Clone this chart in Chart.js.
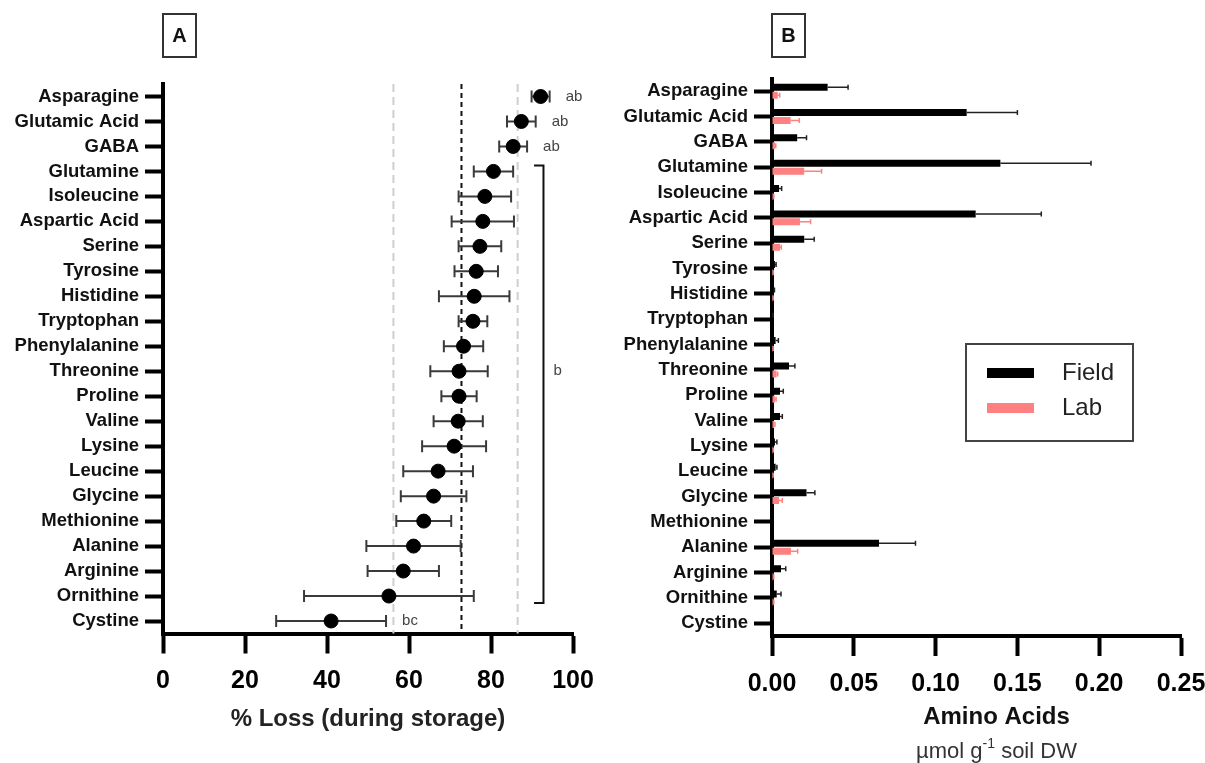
<!DOCTYPE html>
<html>
<head>
<meta charset="utf-8">
<script src="https://cdn.jsdelivr.net/npm/chart.js@4.4.0/dist/chart.umd.min.js"></script>
<style>
body { margin: 0; background: #fff; }
#wrap { position: relative; width: 1205px; height: 763px; }
canvas { position: absolute; top: 0; }
.tag { position: absolute; top: 13px; width: 31px; height: 41px; border: 2px solid #333;
       font: bold 20px 'Liberation Sans', Arial, sans-serif; text-align: center; line-height: 41px; color: #111; }
</style>
</head>
<body>
<div id="wrap">
  <canvas id="chartA" width="600" height="763" style="left:0"></canvas>
  <canvas id="chartB" width="605" height="763" style="left:600px"></canvas>
  <div class="tag" style="left:162px">A</div>
  <div class="tag" style="left:771px">B</div>
</div>
<script>
const aminoAcids = ['Asparagine', 'Glutamic Acid', 'GABA', 'Glutamine', 'Isoleucine', 'Aspartic Acid',
  'Serine', 'Tyrosine', 'Histidine', 'Tryptophan', 'Phenylalanine', 'Threonine', 'Proline', 'Valine',
  'Lysine', 'Leucine', 'Glycine', 'Methionine', 'Alanine', 'Arginine', 'Ornithine', 'Cystine']

// panel A: % loss during storage (mean, sd)
const lossMean = [92.1, 87.4, 85.4, 80.6, 78.5, 78.0, 77.3, 76.4, 75.9, 75.6, 73.3, 72.2, 72.2, 72.0,
  71.0, 67.1, 66.0, 63.6, 61.1, 58.6, 55.1, 41.0]
const lossSD = [2.2, 3.5, 3.4, 4.8, 6.4, 7.6, 5.2, 5.3, 8.6, 3.5, 4.8, 7.0, 4.3, 6.0,
  7.8, 8.5, 8.0, 6.7, 11.5, 8.7, 20.7, 13.4]
const lossRefs = [56.2, 72.8, 86.5]   // lower limit, mean, upper limit
const lossTicks = [0, 20, 40, 60, 80, 100]
const letterRows = [0, 1, 2, 21]
const letterText = ['ab', 'ab', 'ab', 'bc']
const bracketRows = [3, 20]
const bracketText = 'b'

// panel B: umol g-1 soil DW
const fieldMean = [0.034, 0.119, 0.0154, 0.1396, 0.0043, 0.1245, 0.0197, 0.0018, 0.0008, 0.0003, 0.0022,
  0.0104, 0.0049, 0.0049, 0.0018, 0.0022, 0.0211, 0, 0.0654, 0.0055, 0.0029, 0]
const fieldErr = [0.0125, 0.031, 0.0057, 0.0554, 0.0016, 0.0401, 0.0061, 0.0007, 0.0007, 0.0003, 0.0017,
  0.0036, 0.002, 0.0014, 0.0012, 0.0008, 0.0051, 0, 0.0223, 0.0029, 0.0026, 0]
const labMean = [0.0035, 0.0114, 0.0018, 0.0197, 0.0008, 0.0171, 0.0049, 0.0005, 0.0005, 0, 0.0005,
  0.0028, 0.0018, 0.0014, 0.0006, 0.0005, 0.0043, 0, 0.0116, 0.0008, 0.0008, 0]
const labErr = [0.0012, 0.0053, 0.0005, 0.0106, 0.0003, 0.0065, 0.0008, 0.0002, 0.0002, 0, 0.0002,
  0.0007, 0.0007, 0.0004, 0.0002, 0.0002, 0.002, 0, 0.0041, 0.0003, 0.0003, 0]
const concTicks = [0, 0.05, 0.10, 0.15, 0.20, 0.25]
const seriesNames = ['Field', 'Lab']
const seriesColors = ['#000000', '#ff8080']

const FONT = "'Liberation Sans', Arial, sans-serif"
Chart.defaults.font.family = FONT

const catAxis = width => ({
  type: 'category',
  offset: true,
  afterFit: s => { s.width = width; s.paddingTop = 0; s.paddingBottom = 0 },
  grid: { drawOnChartArea: false, drawTicks: true, tickLength: 18, tickWidth: 4, tickColor: '#000', offset: false },
  border: { width: 4, color: '#000' },
  ticks: { font: { size: 18.5, weight: 'bold' }, color: '#111', padding: 6, autoSkip: false }
})

// fixed height, and no extra room asked for the end labels
const valAxis = (ticksArr, height, fmt) => ({
  type: 'linear',
  min: ticksArr[0],
  max: ticksArr[ticksArr.length - 1],
  afterBuildTicks: s => { s.ticks = ticksArr.map(v => ({ value: v })) },
  afterFit: s => { s.height = height; s.paddingLeft = 0; s.paddingRight = 0 },
  grid: { drawOnChartArea: false, drawTicks: true, tickLength: 20, tickWidth: 4, tickColor: '#000' },
  border: { width: 4, color: '#000' },
  ticks: { font: { size: 25, weight: 'bold' }, color: '#000', padding: 13, maxRotation: 0, callback: fmt }
})

//--- panel A
const panelA = {
  id: 'panelA',
  beforeDatasetsDraw(chart) {
    const { ctx, chartArea: a, scales: { x, y } } = chart
    ctx.save()
    lossRefs.forEach((v, k) => {
      const px = x.getPixelForValue(v)
      ctx.beginPath()
      ctx.setLineDash(k === 1 ? [5, 4] : [8, 5])
      ctx.strokeStyle = k === 1 ? '#111' : '#cfcfcf'
      ctx.lineWidth = 2
      ctx.moveTo(px, a.top)
      ctx.lineTo(px, a.bottom)
      ctx.stroke()
    })
    ctx.setLineDash([])
    ctx.strokeStyle = '#3a3a3a'
    ctx.lineWidth = 2
    lossMean.forEach((m, i) => {
      const py = y.getPixelForValue(i)
      const x1 = x.getPixelForValue(m - lossSD[i])
      const x2 = x.getPixelForValue(m + lossSD[i])
      ctx.beginPath()
      ctx.moveTo(x1, py); ctx.lineTo(x2, py)
      ctx.moveTo(x1, py - 6); ctx.lineTo(x1, py + 6)
      ctx.moveTo(x2, py - 6); ctx.lineTo(x2, py + 6)
      ctx.stroke()
    })
    ctx.restore()
  },
  afterDatasetsDraw(chart) {
    const { ctx, scales: { x, y } } = chart
    ctx.save()
    ctx.font = '15px ' + FONT
    ctx.fillStyle = '#444'
    ctx.textBaseline = 'middle'
    letterRows.forEach((r, k) => {
      const px = x.getPixelForValue(lossMean[r] + lossSD[r]) + 16
      ctx.fillText(letterText[k], px, y.getPixelForValue(r))
    })
    // bracket for group b
    const bx = x.getPixelForValue(92.8)
    const tick = x.getPixelForValue(90.5)
    const top = y.getPixelForValue(bracketRows[0]) - 6
    const bottom = y.getPixelForValue(bracketRows[1]) + 7
    ctx.strokeStyle = '#111'
    ctx.lineWidth = 2
    ctx.beginPath()
    ctx.moveTo(tick, top); ctx.lineTo(bx, top); ctx.lineTo(bx, bottom); ctx.lineTo(tick, bottom)
    ctx.stroke()
    ctx.fillText(bracketText, bx + 10, y.getPixelForValue(11))
    ctx.restore()
  }
}

new Chart(document.getElementById('chartA'), {
  type: 'line',
  data: {
    labels: aminoAcids,
    datasets: [{
      data: lossMean,
      showLine: false,
      pointRadius: 7,
      pointHoverRadius: 7,
      pointBackgroundColor: '#000',
      pointBorderColor: '#000',
      borderColor: '#000'
    }]
  },
  options: {
    indexAxis: 'y',
    responsive: false,
    animation: false,
    devicePixelRatio: 1,
    layout: { padding: { top: 84, right: 27, left: 0, bottom: 0 } },
    plugins: { legend: { display: false }, tooltip: { enabled: false } },
    scales: {
      y: catAxis(163),
      x: Object.assign(valAxis(lossTicks, 129.5, v => v), {
        title: { display: true, text: '% Loss (during storage)', color: '#222',
          font: { size: 24, weight: 'bold' }, padding: { top: 0, bottom: 29 } }
      })
    }
  },
  plugins: [panelA]
})

//--- panel B
const panelB = {
  id: 'panelB',
  afterDatasetsDraw(chart) {
    const { ctx, chartArea: a, scales: { x } } = chart
    const errs = [fieldErr, labErr]
    const cols = ['#222', '#ff8080']
    ctx.save()
    chart.data.datasets.forEach((ds, d) => {
      const meta = chart.getDatasetMeta(d)
      ctx.strokeStyle = cols[d]
      ctx.lineWidth = 1.5
      ds.data.forEach((v, i) => {
        if (!errs[d][i]) return
        const py = meta.data[i].y
        const x1 = x.getPixelForValue(v)
        const x2 = x.getPixelForValue(v + errs[d][i])
        ctx.beginPath()
        ctx.moveTo(x1, py); ctx.lineTo(x2, py)
        ctx.moveTo(x2, py - 2.5); ctx.lineTo(x2, py + 2.5)
        ctx.stroke()
      })
    })

    // legend
    ctx.strokeStyle = '#444'
    ctx.lineWidth = 2
    ctx.strokeRect(366, 344, 167, 97)
    ctx.font = '24px ' + FONT
    ctx.textBaseline = 'middle'
    seriesNames.forEach((n, k) => {
      const ly = k === 0 ? 373 : 408
      ctx.fillStyle = seriesColors[k]
      ctx.fillRect(387, ly - 5, 47, 10)
      ctx.fillStyle = '#222'
      ctx.fillText(n, 462, ly)
    })

    // axis title, two lines
    const cx = (a.left + a.right) / 2 + 20
    ctx.textAlign = 'center'
    ctx.fillStyle = '#111'
    ctx.font = 'bold 24px ' + FONT
    ctx.fillText('Amino Acids', cx, 717)
    ctx.font = '22px ' + FONT
    const p1 = 'µmol g', p3 = ' soil DW'
    const w1 = ctx.measureText(p1).width, w3 = ctx.measureText(p3).width
    ctx.font = '14px ' + FONT
    const w2 = ctx.measureText('-1').width
    const sx = cx - (w1 + w2 + w3) / 2
    ctx.textAlign = 'left'
    ctx.fillStyle = '#333'
    ctx.font = '22px ' + FONT
    ctx.fillText(p1, sx, 752)
    ctx.font = '14px ' + FONT
    ctx.fillText('-1', sx + w1, 744)
    ctx.font = '22px ' + FONT
    ctx.fillText(p3, sx + w1 + w2, 752)
    ctx.restore()
  }
}

new Chart(document.getElementById('chartB'), {
  type: 'bar',
  data: {
    labels: aminoAcids,
    datasets: [
      { label: seriesNames[0], data: fieldMean, backgroundColor: seriesColors[0] },
      { label: seriesNames[1], data: labMean, backgroundColor: seriesColors[1] }
    ]
  },
  options: {
    indexAxis: 'y',
    responsive: false,
    animation: false,
    devicePixelRatio: 1,
    categoryPercentage: 0.63,
    barPercentage: 0.875,
    layout: { padding: { top: 78.5, right: 24, left: 0, bottom: 0 } },
    plugins: { legend: { display: false }, tooltip: { enabled: false } },
    scales: {
      y: catAxis(172),
      x: valAxis(concTicks, 127, v => v.toFixed(2))
    }
  },
  plugins: [panelB]
})
</script>
</body>
</html>
